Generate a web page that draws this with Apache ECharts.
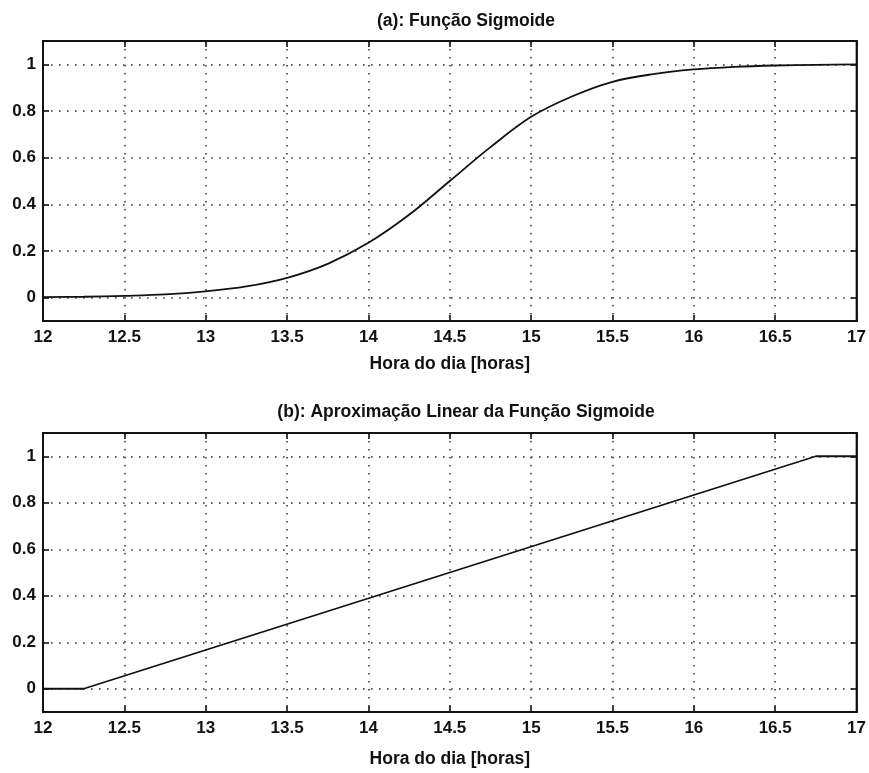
<!DOCTYPE html>
<html>
<head>
<meta charset="utf-8">
<script src="https://cdn.jsdelivr.net/npm/echarts@6/dist/echarts.min.js"></script>
<style>
  html, body { margin: 0; padding: 0; background: #fff; }
  #chart { width: 869px; height: 773px; }
</style>
</head>
<body>
<div id="chart"></div>
<script>
// Hour of day (x) for the sigmoid curve, sampled every quarter hour
const sigmoidHours = [12, 12.25, 12.5, 12.75, 13, 13.25, 13.5, 13.75, 14, 14.25, 14.5,
  14.75, 15, 15.25, 15.5, 15.75, 16, 16.25, 16.5, 16.75, 17];
const sigmoidValues = [0.002, 0.004, 0.008, 0.014, 0.027, 0.048, 0.085, 0.145, 0.235, 0.355, 0.5,
  0.645, 0.775, 0.862, 0.925, 0.958, 0.978, 0.989, 0.995, 0.998, 1.0];

// Piecewise-linear approximation: breakpoints
const linearHours = [12, 12.25, 16.75, 17];
const linearValues = [0, 0, 1, 1];

const yTicks = [0, 0.2, 0.4, 0.6, 0.8, 1];

const titleA = '(a): Função Sigmoide';
const titleB = '(b): Aproximação Linear da Função Sigmoide';
const xName = 'Hora do dia [horas]';

const FONT = '"Liberation Sans", Arial, Helvetica, sans-serif';
const INK = '#111';
const DOTS = { color: '#3a3a3a', width: 1.6, type: [1.6, 6.4] };

const grids = [
  { left: 43, right: 11, top: 41, height: 280, show: true, borderColor: INK, borderWidth: 1.8 },
  { left: 43, right: 10, top: 433, height: 279, show: true, borderColor: INK, borderWidth: 1.8 }
];

function xAxisMain(gi, gap) {
  return {
    type: 'value', gridIndex: gi, min: 12, max: 17, interval: 0.5,
    name: xName, nameLocation: 'middle', nameGap: gap,
    nameTextStyle: { fontFamily: FONT, fontWeight: 'bold', fontSize: 17.5, color: INK },
    axisLine: { show: true, onZero: false, lineStyle: { color: INK, width: 1.8 } },
    axisTick: { show: true, inside: true, length: 6, lineStyle: { color: INK, width: 1.6 } },
    axisLabel: { margin: 8, fontFamily: FONT, fontWeight: 'bold', fontSize: 17, color: INK,
      formatter: v => String(v) },
    splitLine: { show: true, lineStyle: DOTS }
  };
}
function xAxisTop(gi) {
  return {
    type: 'value', gridIndex: gi, min: 12, max: 17, interval: 0.5, position: 'top',
    axisLine: { show: true, onZero: false, lineStyle: { color: INK, width: 1.8 } },
    axisTick: { show: true, inside: true, length: 6, lineStyle: { color: INK, width: 1.6 } },
    axisLabel: { show: false }, splitLine: { show: false }
  };
}
function yAxisMain(gi) {
  return {
    type: 'value', gridIndex: gi, min: -0.1, max: 1.1,
    axisLine: { show: true, onZero: false, lineStyle: { color: INK, width: 1.8 } },
    axisTick: { show: true, inside: true, length: 6, lineStyle: { color: INK, width: 1.6 },
      customValues: yTicks },
    axisLabel: { margin: 7, fontFamily: FONT, fontWeight: 'bold', fontSize: 17, color: INK,
      customValues: yTicks, formatter: v => String(+v.toFixed(1)) },
    splitLine: { show: true, lineStyle: DOTS }
  };
}
function yAxisRight(gi) {
  return {
    type: 'value', gridIndex: gi, min: -0.1, max: 1.1, position: 'right',
    axisLine: { show: true, onZero: false, lineStyle: { color: INK, width: 1.8 } },
    axisTick: { show: true, inside: true, length: 6, lineStyle: { color: INK, width: 1.6 },
      customValues: yTicks },
    axisLabel: { show: false }, splitLine: { show: false }
  };
}

const option = {
  animation: false,
  backgroundColor: '#fff',
  title: [
    { text: titleA, left: 461, top: 7, textAlign: 'center',
      textStyle: { fontFamily: FONT, fontWeight: 'bold', fontSize: 17.5, color: INK } },
    { text: titleB, left: 461, top: 398, textAlign: 'center',
      textStyle: { fontFamily: FONT, fontWeight: 'bold', fontSize: 17.5, color: INK } }
  ],
  grid: grids,
  xAxis: [xAxisMain(0, 34), xAxisTop(0), xAxisMain(1, 38), xAxisTop(1)],
  yAxis: [yAxisMain(0), yAxisRight(0), yAxisMain(1), yAxisRight(1)],
  series: [
    {
      type: 'line', xAxisIndex: 0, yAxisIndex: 0, smooth: 0.35, showSymbol: false,
      lineStyle: { color: INK, width: 1.8 },
      data: sigmoidHours.map((h, i) => [h, sigmoidValues[i]])
    },
    {
      type: 'line', xAxisIndex: 2, yAxisIndex: 2, showSymbol: false,
      lineStyle: { color: INK, width: 1.8 },
      data: linearHours.map((h, i) => [h, linearValues[i]])
    }
  ]
};

echarts.init(document.getElementById('chart'), null, { renderer: 'canvas' }).setOption(option);
</script>
</body>
</html>
